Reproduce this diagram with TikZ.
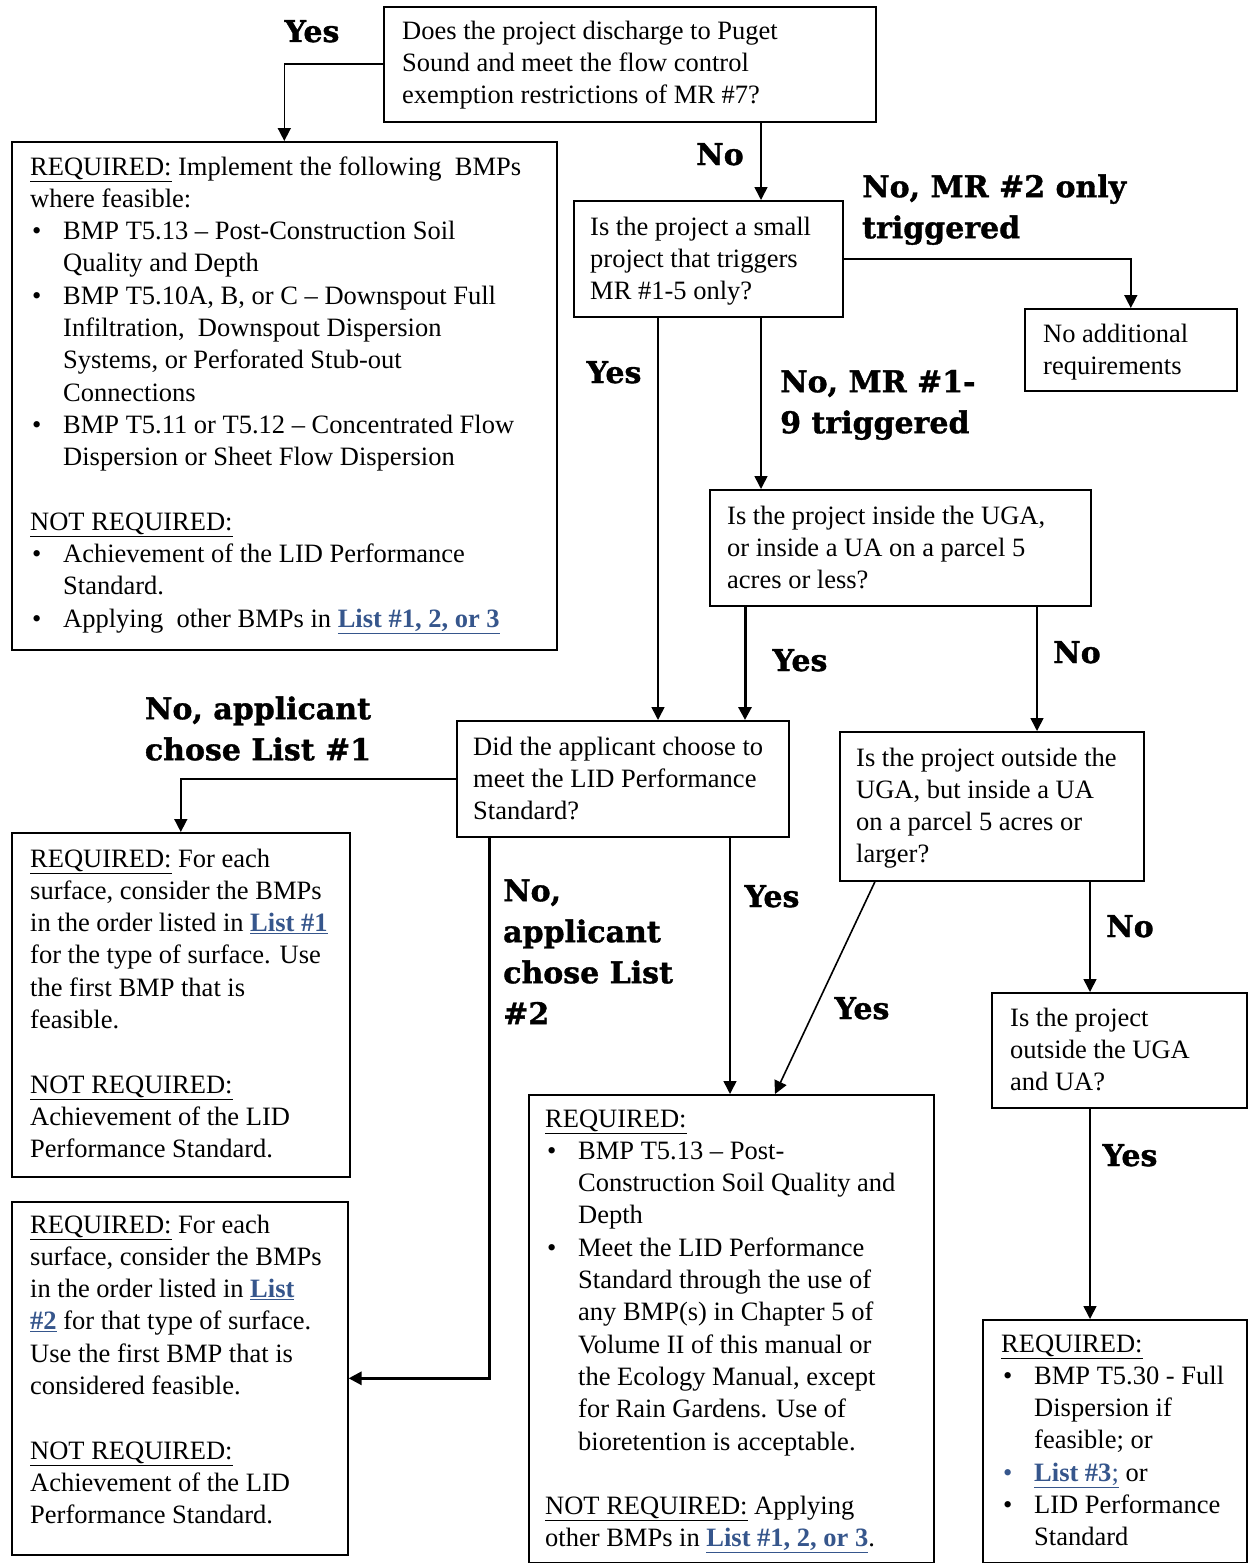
\documentclass[tikz,border=0pt]{standalone}
\usepackage{fontspec}
\setmainfont{Liberation Serif}
\newfontfamily\labfamily{DejaVu Serif}[BoldFeatures={FakeBold=1.2}]
\usetikzlibrary{arrows.meta}
\definecolor{linkc}{RGB}{54,86,140}
\newcommand\lnk[1]{\textcolor{linkc}{\bfseries\underline{#1}}}
\newcommand\bul{\makebox[33pt][l]{\hspace{2pt}\textbullet}}
\newcommand\blbul{\makebox[33pt][l]{\hspace{2pt}\textcolor{linkc}{\textbullet}}}
\newcommand\ind{\hspace*{33pt}}
\newcommand\ul[1]{\underline{#1}}
\begin{document}
\begin{tikzpicture}[x=1pt,y=-1pt,
  box/.style={draw,line width=1.6pt,inner sep=0pt,anchor=north west},
  body/.style={inner sep=0pt,anchor=north west,align=left,font=\fontsize{26.5}{32.3}\selectfont},
  lab/.style={inner sep=0pt,font=\labfamily\bfseries\fontsize{30}{41}\selectfont},
  arr/.style={line width=1.6pt,-{Triangle[length=13pt,width=13pt]}},
  arrthick/.style={line width=3pt,-{Triangle[length=13pt,width=13pt]}}]
\useasboundingbox[fill=white] (0,0) rectangle (1248,1563);

% boxes
\node[box,minimum width=492pt,minimum height=115pt] (q1) at (383,6) {};
\node[box,minimum width=545pt,minimum height=508pt] (r1) at (11,141) {};
\node[box,minimum width=269pt,minimum height=116pt] (q2) at (573,200) {};
\node[box,minimum width=212pt,minimum height=82pt] (na) at (1024,308) {};
\node[box,minimum width=381pt,minimum height=116pt] (q3) at (709,489) {};
\node[box,minimum width=332pt,minimum height=116pt] (q4) at (456,720) {};
\node[box,minimum width=304pt,minimum height=149pt] (q5) at (839,731) {};
\node[box,minimum width=338pt,minimum height=344pt] (l1) at (11,832) {};
\node[box,minimum width=336pt,minimum height=353pt] (l2) at (11,1201) {};
\node[box,minimum width=405pt,minimum height=468pt] (mid) at (528,1094) {};
\node[box,minimum width=255pt,minimum height=115pt] (q6) at (991,992) {};
\node[box,minimum width=264pt,minimum height=243pt] (r3) at (982,1319) {};

% texts
\node[body] (q1t) at (402,16.25) {\strut Does the project discharge to Puget\\Sound and meet the flow control\\exemption restrictions of MR \#7?};
\node[body] (r1t) at (30,152.25) {\strut\ul{REQUIRED:} Implement the following\ \ BMPs\\
where feasible:\\
\bul BMP T5.13 -- Post-Construction Soil\\
\ind Quality and Depth\\
\bul BMP T5.10A, B, or C -- Downspout Full\\
\ind Infiltration,\ \ Downspout Dispersion\\
\ind Systems, or Perforated Stub-out\\
\ind Connections\\
\bul BMP T5.11 or T5.12 -- Concentrated Flow\\
\ind Dispersion or Sheet Flow Dispersion\\
\strut\\
\ul{NOT REQUIRED:}\\
\bul Achievement of the LID Performance\\
\ind Standard.\\
\bul Applying\ \ other BMPs in \lnk{List \#1, 2, or 3}};
\node[body] (q2t) at (590,212.25) {\strut Is the project a small\\project that triggers\\MR \#1-5 only?};
\node[body] (nat) at (1043,319.25) {\strut No additional\\requirements};
\node[body] (q3t) at (727,501.25) {\strut Is the project inside the UGA,\\or inside a UA on a parcel 5\\acres or less?};
\node[body] (q4t) at (473,732.25) {\strut Did the applicant choose to\\meet the LID Performance\\Standard?};
\node[body] (q5t) at (856,743.25) {\strut Is the project outside the\\UGA, but inside a UA\\on a parcel 5 acres or\\larger?};
\node[body] (l1t) at (30,844.25) {\strut\ul{REQUIRED:} For each\\
surface, consider the BMPs\\
in the order listed in \lnk{List \#1}\\
for the type of surface. Use\\
the first BMP that is\\
feasible.\\
\strut\\
\ul{NOT REQUIRED:}\\
Achievement of the LID\\
Performance Standard.};
\node[body] (l2t) at (30,1210.25) {\strut\ul{REQUIRED:} For each\\
surface, consider the BMPs\\
in the order listed in \lnk{List}\\
\lnk{\#2} for that type of surface.\\
Use the first BMP that is\\
considered feasible.\\
\strut\\
\ul{NOT REQUIRED:}\\
Achievement of the LID\\
Performance Standard.};
\node[body] (midt) at (545,1104.25) {\strut\ul{REQUIRED:}\\
\bul BMP T5.13 -- Post-\\
\ind Construction Soil Quality and\\
\ind Depth\\
\bul Meet the LID Performance\\
\ind Standard through the use of\\
\ind any BMP(s) in Chapter 5 of\\
\ind Volume II of this manual or\\
\ind the Ecology Manual, except\\
\ind for Rain Gardens. Use of\\
\ind bioretention is acceptable.\\
\strut\\
\ul{NOT REQUIRED:} Applying\\
other BMPs in \lnk{List \#1, 2, or 3}.};
\node[body] (q6t) at (1010,1003.25) {\strut Is the project\\outside the UGA\\and UA?};
\node[body] (r3t) at (1001,1329.25) {\strut\ul{REQUIRED:}\\
\bul BMP T5.30 - Full\\
\ind Dispersion if\\
\ind feasible; or\\
\blbul\textcolor{linkc}{\underline{\textbf{List \#3};}} or\\
\bul LID Performance\\
\ind Standard};

% x positions for connectors
\coordinate (x489) at (489,0);
\coordinate (x658) at (658,0);
\coordinate (x730) at (730,0);
\coordinate (x745) at (745,0);
\coordinate (x761) at (761,0);
\coordinate (x775) at (775,0);
\coordinate (x875) at (875,0);
\coordinate (x1037) at (1037,0);
\coordinate (x1090) at (1090,0);

% connectors
\draw[arr] (q1.west) -| (r1.north);
\draw[arr] (q1.south -| x761) -- (q2.north -| x761);
\draw[arr] (q2.east) -| (na.north);
\draw[arr] (q2.south -| x658) -- (q4.north -| x658);
\draw[arr] (q2.south -| x761) -- (q3.north -| x761);
\draw[arrthick] (q3.south -| x745) -- (q4.north -| x745);
\draw[arr] (q3.south -| x1037) -- (q5.north -| x1037);
\draw[arr] (q4.west) -| (l1.north);
\draw[arrthick] (q4.south -| x489) |- (l2.east);
\draw[arr] (q4.south -| x730) -- (mid.north -| x730);
\draw[arr] (q5.south -| x875) -- (mid.north -| x775);
\draw[arr] (q5.south -| x1090) -- (q6.north -| x1090);
\draw[arr] (q6.south -| x1090) -- (r3.north -| x1090);

% labels
\node[lab,anchor=base] (lyes1) at (312,42) {Yes};
\node[lab,anchor=base] (lno1) at (720,165) {No};
\node[lab,anchor=north west,align=left] (lno2) at (862,168.3) {\strut No, MR \#2 only\\triggered};
\node[lab,anchor=base] (lyes2) at (614,383) {Yes};
\node[lab,anchor=north west,align=left] (lno3) at (780,363.3) {\strut No, MR \#1-\\9 triggered};
\node[lab,anchor=base] (lyes3) at (800,671) {Yes};
\node[lab,anchor=base] (lno4) at (1077,663) {No};
\node[lab,anchor=north,align=center] (lno5) at (258,690.3) {\strut No, applicant\\chose List \#1};
\node[lab,anchor=north west,align=left] (lno6) at (503,872.3) {\strut No,\\applicant\\chose List\\\#2};
\node[lab,anchor=base] (lyes4) at (772,907) {Yes};
\node[lab,anchor=base] (lyes5) at (862,1019) {Yes};
\node[lab,anchor=base] (lno7) at (1130,937) {No};
\node[lab,anchor=base] (lyes6) at (1130,1166) {Yes};
\end{tikzpicture}
\end{document}
